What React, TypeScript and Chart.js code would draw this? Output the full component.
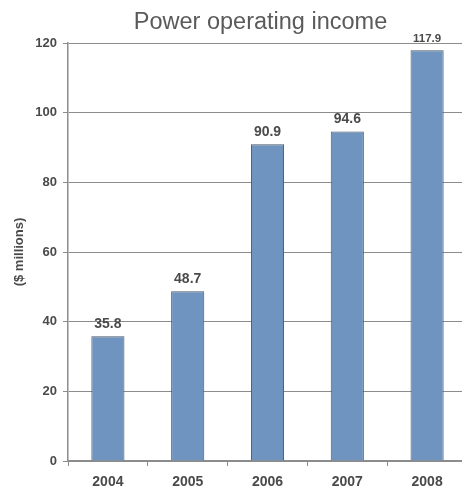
import React, { useEffect, useRef } from "react";
import { Chart, registerables } from "chart.js";

Chart.register(...registerables);

const years = ["2004", "2005", "2006", "2007", "2008"];
const operatingIncome = [35.8, 48.7, 90.9, 94.6, 117.9];
const yTicks = [0, 20, 40, 60, 80, 100, 120];

const TITLE = "Power operating income";
const Y_TITLE = "($ millions)";
const FONT = "Arial, 'Liberation Sans', sans-serif";
const BAR_FILL = "#7094c0";
const BAR_EDGE = "#4d5560";
const GRID = "#8c8c8c";
const TEXT = "#4a4a4a";
const labelSizes = [14, 14, 14, 14, 11.5];

const titlePlugin = {
  id: "topTitle",
  afterDraw(chart: any) {
    const { ctx, chartArea } = chart;
    ctx.save();
    ctx.font = `23.5px ${FONT}`;
    ctx.fillStyle = "#5a5a5a";
    ctx.textAlign = "center";
    ctx.textBaseline = "alphabetic";
    ctx.fillText(TITLE, (chartArea.left + chartArea.right) / 2 - 7, 29);
    ctx.restore();
  },
};

const valueLabels = {
  id: "valueLabels",
  afterDatasetsDraw(chart: any) {
    const { ctx } = chart;
    const meta = chart.getDatasetMeta(0);
    ctx.save();
    ctx.fillStyle = TEXT;
    ctx.textAlign = "center";
    ctx.textBaseline = "alphabetic";
    meta.data.forEach((bar: any, i: number) => {
      ctx.font = `bold ${labelSizes[i]}px ${FONT}`;
      ctx.fillText(operatingIncome[i].toFixed(1), bar.x, bar.y - 8.5);
    });
    ctx.restore();
  },
};

export default function App() {
  const ref = useRef<HTMLCanvasElement>(null);

  useEffect(() => {
    if (!ref.current) return;
    const chart = new Chart(ref.current, {
      type: "bar",
      data: {
        labels: years,
        datasets: [
          {
            data: operatingIncome,
            backgroundColor: BAR_FILL,
            borderColor: BAR_EDGE,
            borderWidth: 1,
            categoryPercentage: 1,
            barPercentage: 0.415,
          },
        ],
      },
      options: {
        responsive: false,
        animation: false,
        layout: { padding: { top: 43, right: 13, left: 0, bottom: 0 } },
        plugins: {
          legend: { display: false },
          tooltip: { enabled: false },
          title: { display: false },
        },
        scales: {
          x: {
            afterFit(scale: any) {
              scale.height = 30;
            },
            grid: {
              offset: true,
              drawOnChartArea: false,
              drawTicks: true,
              tickLength: 5,
              color: GRID,
            },
            border: { color: GRID, width: 1.5 },
            ticks: {
              color: TEXT,
              font: { family: FONT, size: 14, weight: "bold" },
              padding: 8,
              maxRotation: 0,
            },
          },
          y: {
            min: 0,
            max: 120,
            afterFit(scale: any) {
              scale.width = 68;
            },
            afterBuildTicks(scale: any) {
              scale.ticks = yTicks.map((v) => ({ value: v }));
            },
            grid: {
              color: GRID,
              lineWidth: 1,
              drawTicks: true,
              tickLength: 5,
            },
            border: { color: GRID, width: 1.5 },
            ticks: {
              color: TEXT,
              font: { family: FONT, size: 13, weight: "bold" },
              padding: 6,
            },
            title: {
              display: true,
              text: Y_TITLE,
              color: TEXT,
              font: { family: FONT, size: 13, weight: "bold" },
              padding: { top: 12, bottom: 0 },
            },
          },
        },
      },
      plugins: [titlePlugin, valueLabels],
    });
    return () => chart.destroy();
  }, []);

  return (
    <div
      style={{
        position: "fixed",
        left: 0,
        top: 0,
        width: 462,
        height: 491,
        overflow: "hidden",
        background: "#fff",
      }}
    >
      <canvas ref={ref} width={480} height={491} style={{ width: 480, height: 491, display: "block" }} />
    </div>
  );
}
